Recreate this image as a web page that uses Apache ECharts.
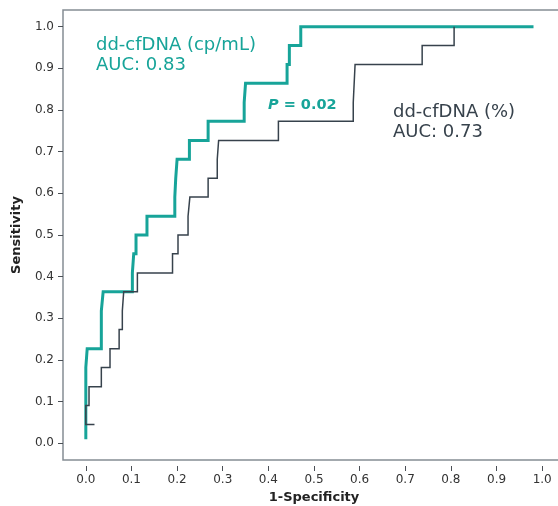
<!DOCTYPE html>
<html>
<head>
<meta charset="utf-8">
<script src="https://cdn.jsdelivr.net/npm/echarts@6/dist/echarts.min.js"></script>
<style>
  html, body { margin: 0; padding: 0; background: #fff; }
  #chart { width: 558px; height: 506px; }
</style>
</head>
<body>
<div id="chart"></div>
<script>
// ROC step vertices: [1-specificity, sensitivity]
const cpmlRoc = [
  [0, 0.01], [0, 0.182], [0.003, 0.182], [0.003, 0.227], [0.034, 0.227], [0.034, 0.318],
  [0.038, 0.318], [0.038, 0.364], [0.102, 0.364], [0.102, 0.409], [0.105, 0.409], [0.105, 0.455],
  [0.110, 0.455], [0.110, 0.5], [0.134, 0.5], [0.134, 0.545], [0.195, 0.545], [0.195, 0.591],
  [0.197, 0.591], [0.197, 0.636], [0.2, 0.636], [0.2, 0.682], [0.227, 0.682], [0.227, 0.727],
  [0.268, 0.727], [0.268, 0.773], [0.347, 0.773], [0.347, 0.818], [0.35, 0.818], [0.35, 0.864],
  [0.441, 0.864], [0.441, 0.909], [0.446, 0.909], [0.446, 0.955], [0.471, 0.955], [0.471, 1],
  [0.981, 1]
];
const pctRoc = [
  [0.019, 0.045], [0, 0.045], [0, 0.091], [0.007, 0.091], [0.007, 0.136], [0.034, 0.136],
  [0.034, 0.182], [0.053, 0.182], [0.053, 0.227], [0.073, 0.227], [0.073, 0.273], [0.080, 0.273],
  [0.080, 0.318], [0.083, 0.318], [0.083, 0.364], [0.113, 0.364], [0.113, 0.409], [0.190, 0.409],
  [0.190, 0.455], [0.202, 0.455], [0.202, 0.5], [0.224, 0.5], [0.224, 0.545], [0.228, 0.545],
  [0.228, 0.591], [0.268, 0.591], [0.268, 0.636], [0.288, 0.636], [0.288, 0.682], [0.291, 0.682],
  [0.291, 0.727], [0.422, 0.727], [0.422, 0.773], [0.586, 0.773], [0.586, 0.818], [0.590, 0.818],
  [0.590, 0.909], [0.737, 0.909], [0.737, 0.955], [0.807, 0.955], [0.807, 1]
];
const tickValues = [0, 0.1, 0.2, 0.3, 0.4, 0.5, 0.6, 0.7, 0.8, 0.9, 1.0];

const TEAL = "#17a499";
const DARK = "#37424c";
const FONT = "DejaVu Sans";

const chart = echarts.init(document.getElementById("chart"));

const axisCommon = {
  type: "value",
  splitLine: { show: false },
  axisLine: { show: false, onZero: false },
  axisTick: { show: true, length: 5, customValues: tickValues, lineStyle: { color: "#4a4f55", width: 1 } },
  axisLabel: {
    customValues: tickValues,
    color: "#333",
    fontSize: 12,
    fontFamily: FONT,
    formatter: (v) => v.toFixed(1),
  },
  nameLocation: "middle",
  nameTextStyle: { fontFamily: FONT, fontSize: 13, fontWeight: "bold", color: "#222" },
};

chart.setOption({
  animation: false,
  grid: {
    left: 63, top: 10, width: 502, height: 450,
    outerBoundsMode: "none",
    show: true, borderColor: "#858d94", borderWidth: 1.5,
  },
  xAxis: {
    ...axisCommon,
    min: -0.05, max: 1.05,
    offset: 6,
    name: "1-Specificity",
    nameGap: 24,
  },
  yAxis: {
    ...axisCommon,
    min: -0.04, max: 1.04,
    axisLabel: { ...axisCommon.axisLabel, margin: 9 },
    name: "Sensitivity",
    nameGap: 40,
  },
  series: [
    {
      name: "dd-cfDNA (cp/mL)",
      type: "line",
      data: cpmlRoc,
      showSymbol: false,
      lineStyle: { color: TEAL, width: 3, cap: "butt", join: "miter" },
      z: 2,
    },
    {
      name: "dd-cfDNA (%)",
      type: "line",
      data: pctRoc,
      showSymbol: false,
      lineStyle: { color: DARK, width: 1.5, join: "miter" },
      z: 3,
    },
  ],
  graphic: [
    {
      type: "text", left: 96, top: 35,
      style: { text: "dd-cfDNA (cp/mL)\nAUC: 0.83", fill: TEAL, font: `18px "${FONT}"`, lineHeight: 20 },
    },
    {
      type: "text", left: 268, top: 98,
      style: {
        text: "{i|P} = 0.02",
        fill: TEAL,
        font: `bold 14.5px "${FONT}"`,
        rich: { i: { fontStyle: "italic", fontWeight: "bold", fontSize: 14.5, fontFamily: FONT, fill: TEAL } },
      },
    },
    {
      type: "text", left: 393, top: 102,
      style: { text: "dd-cfDNA (%)\nAUC: 0.73", fill: DARK, font: `18px "${FONT}"`, lineHeight: 20 },
    },
  ],
});
</script>
</body>
</html>
